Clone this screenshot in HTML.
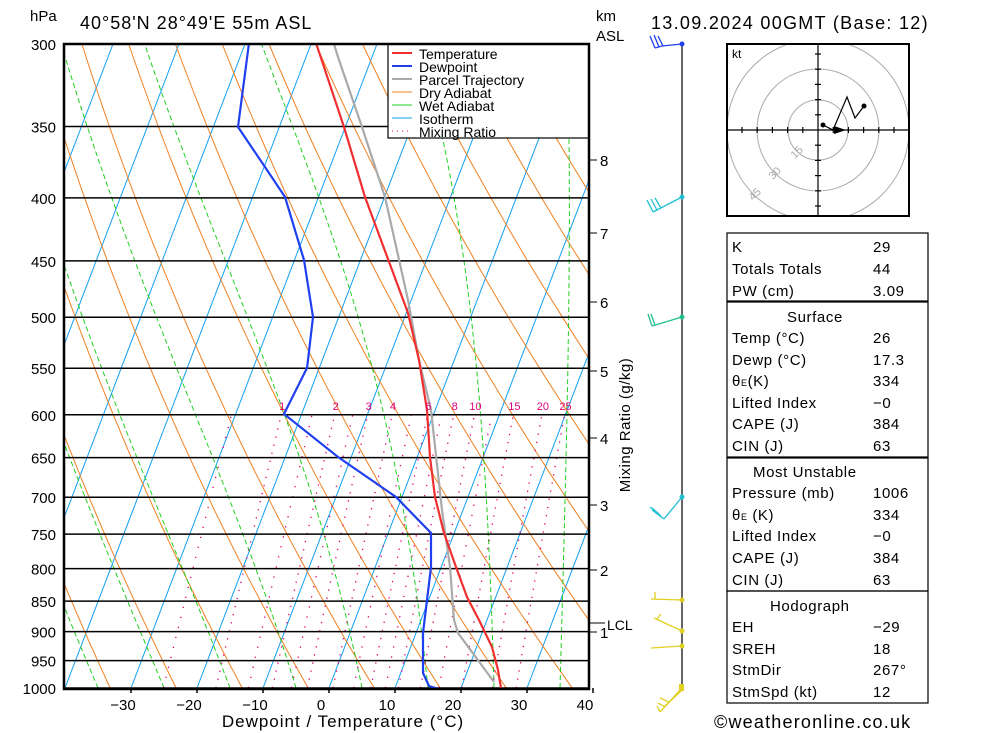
<!DOCTYPE html>
<html><head><meta charset="utf-8"><style>
body{margin:0;background:#fff;width:1000px;height:733px;overflow:hidden}
svg{display:block;font-family:"Liberation Sans",sans-serif}
</style></head><body>
<svg id="s" width="1000" height="733" viewBox="0 0 1000 733" xmlns="http://www.w3.org/2000/svg">
<defs><clipPath id="c"><rect x="64" y="44" width="525" height="644"/></clipPath>
<clipPath id="h"><rect x="728" y="45" width="180" height="170"/></clipPath></defs>
<rect width="1000" height="733" fill="#fff"/>
<g id="bg" clip-path="url(#c)" fill="none"></g>
<g id="iso" stroke="#000" stroke-width="1.5"></g>
<g fill="none" stroke-width="2.2" clip-path="url(#c)">
<polyline stroke="#aaa" points="494,682 458,633 454,620 450,567 442,510 431,410 419,360 408,300 385,197 362,127 338,57 334,44"/>
<polyline stroke="#f03030" points="316,43 344,127 365,197 408,313 419,360 427,410 430,457 435,497 444,533 456,567 467,597 479,620 492,647 498,670 501,688"/>
<polyline stroke="#2040f0" points="249,43 238,127 265,167 285,197 304,260 313,317 308,360 307,368 284,414 338,457 396,497 431,533 431,567 427,600 423,633 423,673 429,686 442,690"/>
</g>
<rect x="388" y="44" width="201" height="94" fill="#fff" stroke="#000" stroke-width="1.2"/>
<g font-size="14" fill="#000">
<line x1="392" y1="53" x2="412" y2="53" stroke="#f03030" stroke-width="2"/><text x="419" y="59">Temperature</text>
<line x1="392" y1="66" x2="412" y2="66" stroke="#2040f0" stroke-width="2"/><text x="419" y="72">Dewpoint</text>
<line x1="392" y1="79" x2="412" y2="79" stroke="#aaa" stroke-width="2"/><text x="419" y="85">Parcel Trajectory</text>
<line x1="392" y1="92" x2="412" y2="92" stroke="#f08020" stroke-width="1"/><text x="419" y="98">Dry Adiabat</text>
<line x1="392" y1="105" x2="412" y2="105" stroke="#20d020" stroke-width="1"/><text x="419" y="111">Wet Adiabat</text>
<line x1="392" y1="118" x2="412" y2="118" stroke="#10a0f0" stroke-width="1"/><text x="419" y="124">Isotherm</text>
<line x1="392" y1="131" x2="412" y2="131" stroke="#e0007a" stroke-width="1" stroke-dasharray="1,4"/><text x="419" y="137">Mixing Ratio</text>
</g>
<rect x="64" y="44" width="525" height="645" fill="none" stroke="#000" stroke-width="2.5"/>
<g id="lbl" font-size="15" fill="#000"></g>
<g font-size="18" fill="#000">
<text x="30" y="21" font-size="15">hPa</text>
<text x="80" y="29" letter-spacing="1">40°58'N  28°49'E  55m  ASL</text>
<text x="596" y="21" font-size="15">km</text>
<text x="596" y="41" font-size="15">ASL</text>
<text x="651" y="29" letter-spacing="1.3">13.09.2024  00GMT  (Base: 12)</text>
<text x="343" y="727" font-size="17" text-anchor="middle" letter-spacing="1">Dewpoint / Temperature (°C)</text>
<text transform="translate(630,425) rotate(-90)" font-size="15" text-anchor="middle" letter-spacing="0.5">Mixing Ratio (g/kg)</text>
<text x="607" y="630" font-size="14">LCL</text>
</g>
<line x1="682" y1="44" x2="682" y2="690" stroke="#000" stroke-width="1.2"/>
<g fill="none" stroke-width="1.3">
<g stroke="#2040f0"><polyline points="682,44 662,46 655,48"/><line x1="655" y1="48" x2="650" y2="36"/><line x1="659" y1="47" x2="654" y2="35"/><line x1="663" y1="46" x2="658" y2="36"/></g>
<g stroke="#20c0d0"><polyline points="682,197 653,212"/><line x1="653" y1="212" x2="647" y2="200"/><line x1="657" y1="210" x2="651" y2="199"/><line x1="661" y1="208" x2="655" y2="198"/></g>
<g stroke="#20c090"><polyline points="682,317 652,326"/><line x1="652" y1="326" x2="648" y2="314"/><line x1="655" y1="325" x2="651" y2="314"/></g>
<g stroke="#20c0d0"><polyline points="682,497 664,519"/><line x1="664" y1="519" x2="652" y2="510"/><line x1="661" y1="516" x2="650" y2="507"/><line x1="659" y1="514" x2="652" y2="508"/></g>
<g stroke="#e0d020"><polyline points="682,600 651,599"/><line x1="655" y1="599" x2="655" y2="592"/><polyline points="682,631 654,618"/><line x1="657" y1="619" x2="661" y2="614"/><polyline points="682,646 651,648"/><polyline points="682,688 660,712"/><line x1="660" y1="712" x2="657" y2="706"/><line x1="665" y1="707" x2="658" y2="703"/><line x1="669" y1="702" x2="660" y2="698"/><line x1="682" y1="690" x2="664" y2="707"/></g>
</g>
<g><circle cx="682" cy="44" r="2.5" fill="#2040f0"/><circle cx="682" cy="197" r="2.5" fill="#20c0d0"/><circle cx="682" cy="317" r="2.5" fill="#20c090"/><circle cx="682" cy="497" r="2.5" fill="#20c0d0"/><g fill="#e0d020"><circle cx="682" cy="600" r="2.5"/><circle cx="682" cy="631" r="2.5"/><circle cx="682" cy="646" r="2.5"/><rect x="679" y="684" width="5" height="7"/></g></g>
<rect x="727" y="44" width="182" height="172" fill="#fff" stroke="#000" stroke-width="2"/>
<g fill="none" stroke="#aaa" stroke-width="1" clip-path="url(#h)"><circle cx="818" cy="130" r="30"/><circle cx="818" cy="130" r="61"/><circle cx="818" cy="130" r="91"/></g>
<g stroke="#000" stroke-width="1.2" id="hodo"><line x1="728" y1="130" x2="909" y2="130"/><line x1="818" y1="45" x2="818" y2="215"/></g>
<g font-size="11" fill="#aaa"><text x="790" y="157" transform="rotate(-45 795 152)">15</text><text x="768" y="178" transform="rotate(-45 773 173)">30</text><text x="748" y="199" transform="rotate(-45 753 194)">45</text></g>
<text x="732" y="58" font-size="12">kt</text>
<polyline points="823,125 833,130 847,97 855,118 864,106" fill="none" stroke="#000" stroke-width="1.2"/>
<circle cx="823" cy="125" r="2.5"/><circle cx="864" cy="106" r="2.5"/>
<polygon points="834,126 846,130 834,134"/>
<g fill="none" stroke="#000" stroke-width="1.2"><rect x="727" y="233" width="201" height="68"/><rect x="727" y="302" width="201" height="155"/><rect x="727" y="458" width="201" height="133"/><rect x="727" y="591" width="201" height="112"/></g>
<g font-size="15" fill="#000" letter-spacing="0.6">
<text x="732" y="252">K</text><text x="873" y="252">29</text>
<text x="732" y="274">Totals Totals</text><text x="873" y="274">44</text>
<text x="732" y="296">PW (cm)</text><text x="873" y="296">3.09</text>
<text x="787" y="322">Surface</text>
<text x="732" y="343">Temp (°C)</text><text x="873" y="343">26</text>
<text x="732" y="365">Dewp (°C)</text><text x="873" y="365">17.3</text>
<text x="732" y="386">θ<tspan font-size="9">E</tspan>(K)</text><text x="873" y="386">334</text>
<text x="732" y="408">Lifted Index</text><text x="873" y="408">−0</text>
<text x="732" y="429">CAPE (J)</text><text x="873" y="429">384</text>
<text x="732" y="451">CIN (J)</text><text x="873" y="451">63</text>
<text x="753" y="477">Most Unstable</text>
<text x="732" y="498">Pressure (mb)</text><text x="873" y="498">1006</text>
<text x="732" y="520">θ<tspan font-size="9">E</tspan> (K)</text><text x="873" y="520">334</text>
<text x="732" y="541">Lifted Index</text><text x="873" y="541">−0</text>
<text x="732" y="563">CAPE (J)</text><text x="873" y="563">384</text>
<text x="732" y="585">CIN (J)</text><text x="873" y="585">63</text>
<text x="770" y="611">Hodograph</text>
<text x="732" y="632">EH</text><text x="873" y="632">−29</text>
<text x="732" y="654">SREH</text><text x="873" y="654">18</text>
<text x="732" y="675">StmDir</text><text x="873" y="675">267°</text>
<text x="732" y="697">StmSpd (kt)</text><text x="873" y="697">12</text>
<text x="714" y="728" font-size="18" letter-spacing="1.2">©weatheronline.co.uk</text>
</g>
<script>
(function(){
var NS="http://www.w3.org/2000/svg";
function Y(p){return 44+Math.log(p/300)/Math.log(1000/300)*644;}
function X(T,p){return 329+6.6*T+(688-Y(p))*0.382;}
function el(par,tag,a,txt){var e=document.createElementNS(NS,tag);for(var k in a)e.setAttribute(k,a[k]);if(txt!=null)e.textContent=txt;document.getElementById(par).appendChild(e);return e;}
var i,p,s;
for(var T=-120;T<=50;T+=10){el("bg","line",{x1:X(T,1000),y1:688,x2:X(T,300),y2:44,stroke:"#10a0f0","stroke-width":1});}
for(var th=150;th<=520;th+=10){s="";for(p=1000;p>=295;p-=10){var t=th*Math.pow(p/1000,0.286)-273.15;s+=X(t,p).toFixed(1)+","+Y(p).toFixed(1)+" ";}el("bg","polyline",{points:s,stroke:"#f08020","stroke-width":1});}
function es(t){return 6.112*Math.exp(17.67*t/(t+243.5));}
for(var T0=-95;T0<=45;T0+=10){var TK=T0+273.15;s="";for(p=1000;p>=295;p-=5){s+=X(TK-273.15,p).toFixed(1)+","+Y(p).toFixed(1)+" ";var e=es(TK-273.15),rs=0.622*e/(p-e);var d=(287*TK+2.5e6*rs)/(p*(1005+2.5e6*2.5e6*rs*0.622/(287*TK*TK)));TK-=d*5;}
el("bg","polyline",{points:s,stroke:"#20d020","stroke-width":1,"stroke-dasharray":"5,3"});}
var ws=[1,2,3,4,6,8,10,15,20,25];
function td(w,p){var e=w*p/(622+w);var l=Math.log(e/6.112);return 243.5*l/(17.67-l);}
ws.forEach(function(w){s="";for(p=1000;p>=600;p-=10){s+=X(td(w,p),p).toFixed(1)+","+Y(p).toFixed(1)+" ";}el("bg","polyline",{points:s,stroke:"#e0007a","stroke-width":1.3,"stroke-dasharray":"1.3,7"});
el("lbl","text",{x:X(td(w,600),600)+1,y:410,fill:"#e0007a","font-size":11,"text-anchor":"middle"},String(w));});
[0.5,1.5,2.5,5,7,12].forEach(function(w){s="";for(p=1000;p>=600;p-=10){s+=X(td(w,p),p).toFixed(1)+","+Y(p).toFixed(1)+" ";}el("bg","polyline",{points:s,stroke:"#e0007a","stroke-width":1.3,"stroke-dasharray":"1.3,9"});});
for(p=300;p<=1000;p+=50){var y=Y(p);el("iso","line",{x1:64,y1:y,x2:589,y2:y});el("lbl","text",{x:56,y:y+6,"text-anchor":"end"},String(p));}
for(var t=-30;t<=40;t+=10){el("lbl","text",{x:X(t,1000)-8,y:710,"text-anchor":"middle"},(t<0?"−":"")+Math.abs(t));el("iso","line",{x1:X(t,1000),y1:688,x2:X(t,1000),y2:693});}
var km=[[8,160],[7,233],[6,302],[5,371],[4,438],[3,505],[2,570],[1,632]];
km.forEach(function(k){el("iso","line",{x1:589,y1:k[1],x2:597,y2:k[1],"stroke-width":1});el("lbl","text",{x:600,y:k[1]+6},String(k[0]));});
el("iso","line",{x1:589,y1:623,x2:605,y2:623,"stroke-width":1});
for(i=-5;i<=5;i++){if(!i)continue;var d2=i*15.2;el("hodo","line",{x1:818+d2,y1:127,x2:818+d2,y2:133});el("hodo","line",{x1:815,y1:130+d2,x2:821,y2:130+d2});}
})();
</script>
</svg>
</body></html>
